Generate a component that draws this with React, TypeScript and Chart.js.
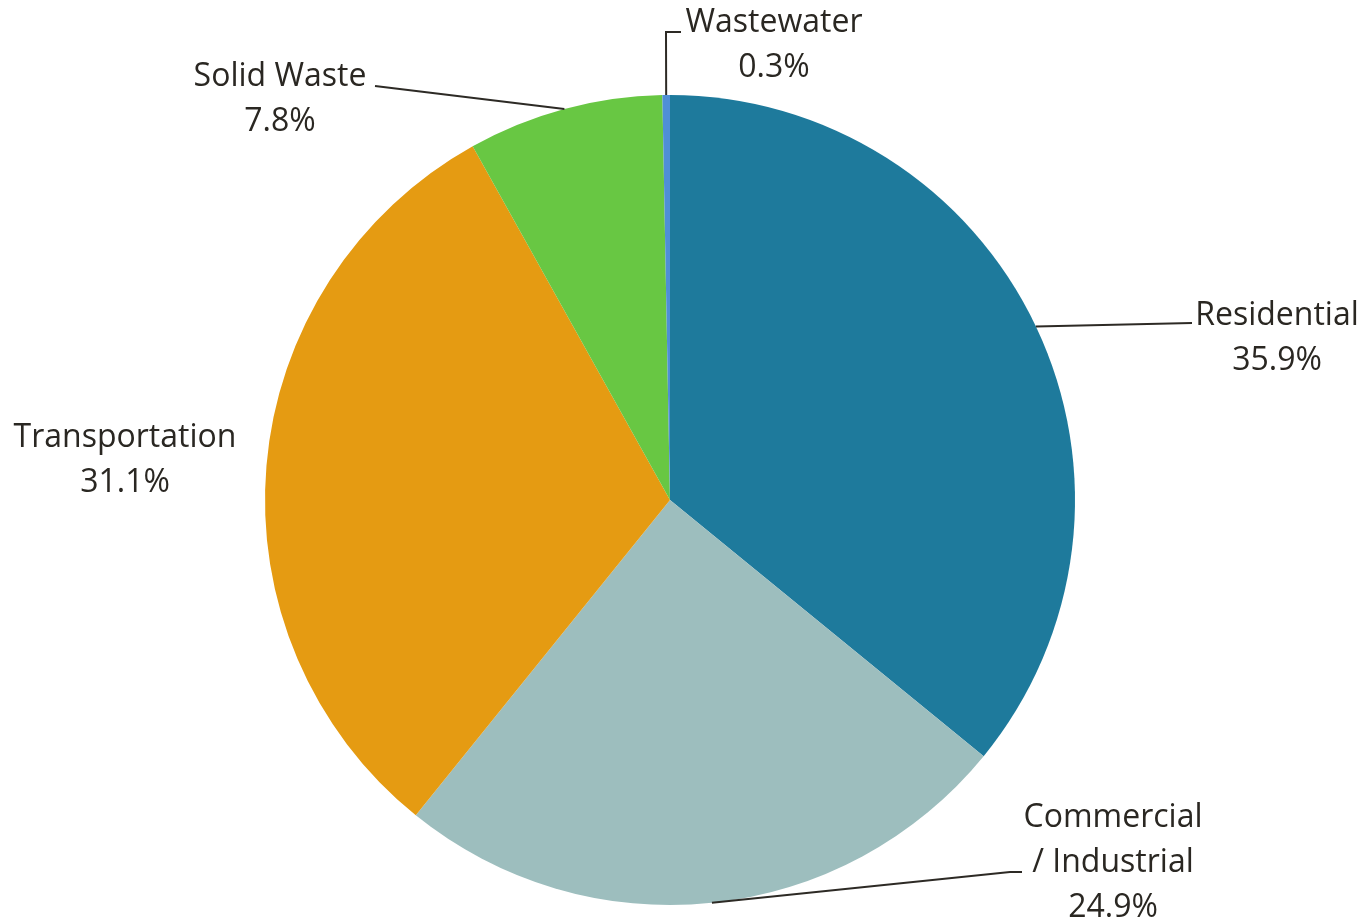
import React, { useEffect, useRef } from "react";
import { Chart, registerables } from "chart.js";

Chart.register(...registerables);

const categories = ["Residential", "Commercial / Industrial", "Transportation", "Solid Waste", "Wastewater"];
const labelLines = [["Residential"], ["Commercial", "/ Industrial"], ["Transportation"], ["Solid Waste"], ["Wastewater"]];
const values = [35.9, 24.9, 31.1, 7.8, 0.3];
const percentLabels = ["35.9%", "24.9%", "31.1%", "7.8%", "0.3%"];
const colors = ["#1E7A9C", "#9DBEBE", "#E59B12", "#68C743", "#4F8FD6"];

// label layout: text center x, first baseline y, leader elbow points (after the arc point)
const labelLayout = [
  { x: 1277, y: 325, leader: [[1192, 323]] },
  { x: 1113, y: 827, leader: [[1010, 872], [1022, 872]] },
  { x: 125, y: 447, leader: [] },
  { x: 280, y: 86, leader: [[375, 86]] },
  { x: 774, y: 32, leader: [[666, 32], [681, 32]] },
];

const FONT = '32px "Open Sans", "Noto Sans", sans-serif';
const LINE_H = 45;

const labelPlugin = {
  id: "outerLabels",
  afterDatasetsDraw(chart: any) {
    const ctx = chart.ctx;
    const meta = chart.getDatasetMeta(0);
    ctx.save();
    meta.data.forEach((arc: any, i: number) => {
      const lay = labelLayout[i];
      const mid = (arc.startAngle + arc.endAngle) / 2;
      const sx = arc.x + Math.cos(mid) * arc.outerRadius;
      const sy = arc.y + Math.sin(mid) * arc.outerRadius;
      if (lay.leader.length) {
        ctx.beginPath();
        ctx.strokeStyle = "#2d2a25";
        ctx.lineWidth = 2;
        ctx.moveTo(sx, sy);
        lay.leader.forEach((p) => ctx.lineTo(p[0], p[1]));
        ctx.stroke();
      }
      ctx.fillStyle = "#2a2722";
      ctx.font = FONT;
      ctx.textAlign = "center";
      ctx.textBaseline = "alphabetic";
      const lines = [...labelLines[i], percentLabels[i]];
      lines.forEach((t, k) => ctx.fillText(t, lay.x, lay.y + k * LINE_H));
    });
    ctx.restore();
  },
};

export default function App() {
  const ref = useRef<HTMLCanvasElement>(null);
  useEffect(() => {
    if (!ref.current) return;
    const chart = new Chart(ref.current, {
      type: "pie",
      data: {
        labels: categories,
        datasets: [
          {
            data: values,
            backgroundColor: colors,
            borderWidth: 0,
          },
        ],
      },
      options: {
        animation: false,
        responsive: false,
        maintainAspectRatio: false,
        layout: { padding: { top: 95, bottom: 17, left: 265, right: 295 } },
        plugins: { legend: { display: false }, tooltip: { enabled: false } },
      },
      plugins: [labelPlugin],
    });
    return () => chart.destroy();
  }, []);
  return (
    <div style={{ position: "fixed", left: 0, top: 0, width: 1370, height: 922, background: "#fff" }}>
      <canvas ref={ref} width={1370} height={922} style={{ width: 1370, height: 922 }} />
    </div>
  );
}
